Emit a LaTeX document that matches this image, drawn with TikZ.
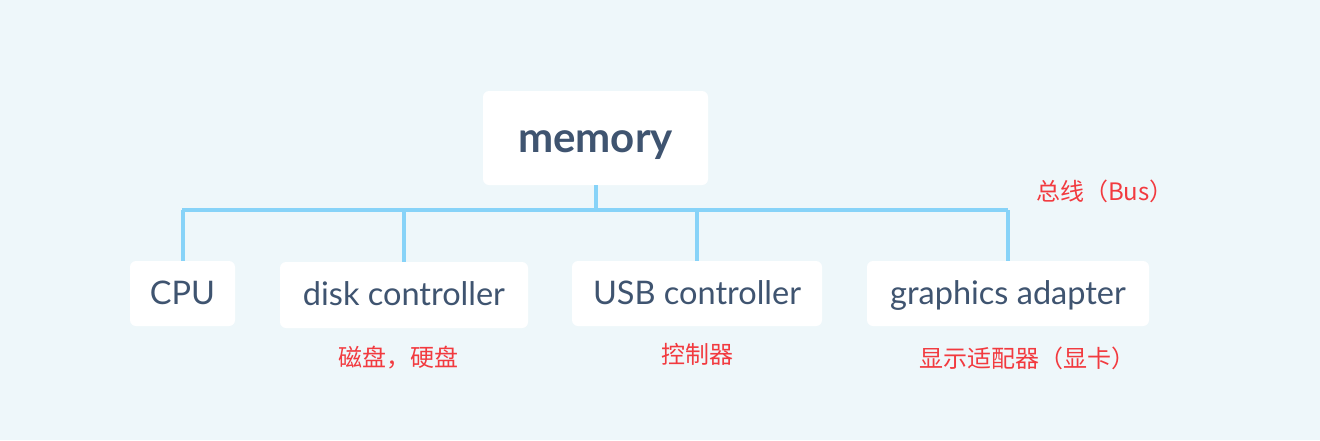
\documentclass[tikz,border=0pt]{standalone}
\usepackage{fontspec}
\setmainfont{Lato}
\newfontfamily\cjk{Noto Sans CJK SC}
\definecolor{bg}{HTML}{EEF7FA}
\definecolor{bus}{HTML}{87D3F8}
\definecolor{txt}{HTML}{3F5470}
\definecolor{lbl}{HTML}{F23A3F}
\begin{document}
\begin{tikzpicture}[x=1pt,y=-1pt,
  box/.style={fill=white,rounded corners=6pt,text=txt,font=\fontsize{32.5}{36}\selectfont,inner sep=0pt,text height=21pt,text depth=0pt},
  buswire/.style={draw=bus,line width=4pt},
  note/.style={text=lbl,font=\cjk\fontsize{24}{28}\selectfont,inner sep=0pt}]
\fill[bg] (0,0) rectangle (1320,440);
\useasboundingbox (0,0) rectangle (1320,440);
\node[box,minimum width=225pt,minimum height=94pt,font=\bfseries\fontsize{42}{46}\selectfont,text height=28pt] (mem) at (595.5,138) {memory};
\node[box,minimum width=105pt,minimum height=65pt] (cpu) at (182.5,293.5) {CPU};
\node[box,minimum width=248pt,minimum height=66pt] (disk) at (404,295) {disk controller};
\node[box,minimum width=250pt,minimum height=65pt] (usb) at (697,293.5) {USB controller};
\node[box,minimum width=282pt,minimum height=65pt] (gfx) at (1008,293.5) {graphics adapter};
\coordinate (bl) at (182,210);
\coordinate (br) at (1008,210);
\draw[buswire] (bl) -- (br);
\draw[buswire] (mem.south) -- (mem.south |- bl);
\draw[buswire] (cpu.north) -- (cpu.north |- bl);
\draw[buswire] (disk.north) -- (disk.north |- bl);
\draw[buswire] (usb.north) -- (usb.north |- bl);
\draw[buswire] (gfx.north) -- (gfx.north |- bl);
\node[note] (n1) at (398,358) {磁盘，硬盘};
\node[note] (n2) at (697,354) {控制器};
\node[note] (n3) at (1027,358) {显示适配器（显卡）};
\node[note] (n4) at (1105,191) {总线（Bus）};
\end{tikzpicture}
\end{document}
